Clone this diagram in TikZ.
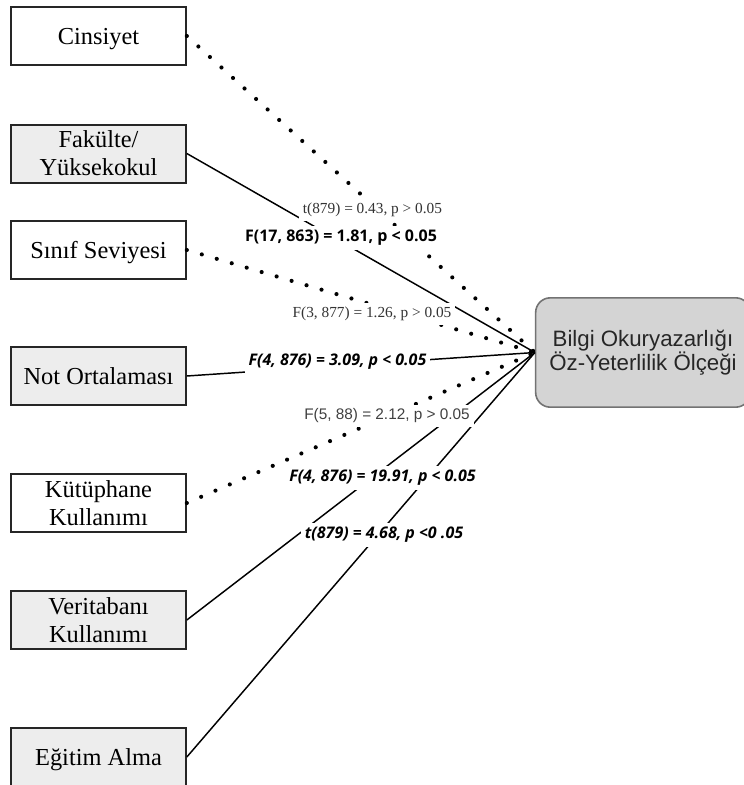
\documentclass[tikz,border=0pt]{standalone}
\usepackage{fontspec}
\setmainfont{Liberation Serif}
\newfontfamily\arialfont{Liberation Sans}
\newfontfamily\uifont{Open Sans}
\usepackage{tikz}

\tikzset{
  varbox/.style={draw=black!85, line width=1.5pt, minimum width=131pt, minimum height=43.5pt,
    inner sep=0pt, align=center, text depth=0pt, font=\fontsize{18.3}{21}\selectfont},
  graybox/.style={varbox, fill=black!7},
  scalebox/.style={draw=black!55, line width=1.2pt, fill=black!17, rounded corners=11pt,
    minimum width=161pt, minimum height=82pt, inner sep=0pt, align=center, text=black!85,
    font=\arialfont\fontsize{16.7}{18.2}\selectfont},
  solidline/.style={line width=1.1pt},
  dotline/.style={line width=3.1pt, line cap=round, dash pattern=on 0pt off 11.7pt},
  serlabel/.style={fill=white, inner sep=3pt, text=black!80, font=\fontsize{11.5}{13}\selectfont},
  sanslabel/.style={fill=white, inner sep=3pt, text=black!75, font=\arialfont\fontsize{11.5}{13}\selectfont},
  boldlabel/.style={fill=white, inner sep=3pt, font=\uifont\bfseries\fontsize{12}{14}\selectfont},
  itlabel/.style={fill=white, inner sep=3pt, font=\uifont\bfseries\itshape\fontsize{12}{14}\selectfont}
}

\begin{document}
\begin{tikzpicture}[x=0.75pt,y=0.75pt,yscale=-1,xscale=1]
\useasboundingbox (0,0) rectangle (743,785);

%Shape: Rectangle [variables]
\node[varbox]  (cins) at (98.5,36) {Cinsiyet};
\node[graybox] (fak)  at (98.5,153.5) {Fakülte/\\Yüksekokul};
\node[varbox]  (sin)  at (98.5,250) {Sınıf Seviyesi};
\node[graybox] (not)  at (98.5,376) {Not Ortalaması};
\node[varbox]  (kut)  at (98.5,503) {Kütüphane\\Kullanımı};
\node[graybox] (vt)   at (98.5,620) {Veritabanı\\Kullanımı};
\node[graybox] (egt)  at (98.5,757) {Eğitim Alma};

%Shape: Rounded Rect [scale]
\node[scalebox] (olcek) at (643,352.5) {Bilgi Okuryazarlığı\\Öz-Yeterlilik Ölçeği};

%Straight Lines
\draw[dotline]   (cins.east) -- (olcek.west);
\draw[solidline] (fak.east)  -- (olcek.west);
\draw[dotline]   (sin.east)  -- (olcek.west);
\draw[solidline] (not.east)  -- (olcek.west);
\draw[dotline]   (kut.east)  -- (olcek.west);
\draw[solidline] (vt.east)   -- (olcek.west);
\draw[solidline] (egt.east)  -- (olcek.west);

% Text Node
\node[serlabel]  (lcins) at (372.5,210) {t(879) = 0.43, p > 0.05};
% Text Node
\node[boldlabel] (lfak)  at (341,238) {F(17, 863) = 1.81, p < 0.05};
% Text Node
\node[serlabel]  (lsin)  at (372,314) {F(3, 877) = 1.26, p > 0.05};
% Text Node
\node[itlabel]   (lnot)  at (337.5,362) {F(4, 876) = 3.09, p < 0.05};
% Text Node
\node[sanslabel] (lkut)  at (387,416) {F(5, 88) = 2.12, p > 0.05};
% Text Node
\node[itlabel]   (lvt)   at (382.5,478) {F(4, 876) = 19.91, p < 0.05};
% Text Node
\node[itlabel]   (legt)  at (384,535) {t(879) = 4.68, p <0 .05};

\end{tikzpicture}
\end{document}
